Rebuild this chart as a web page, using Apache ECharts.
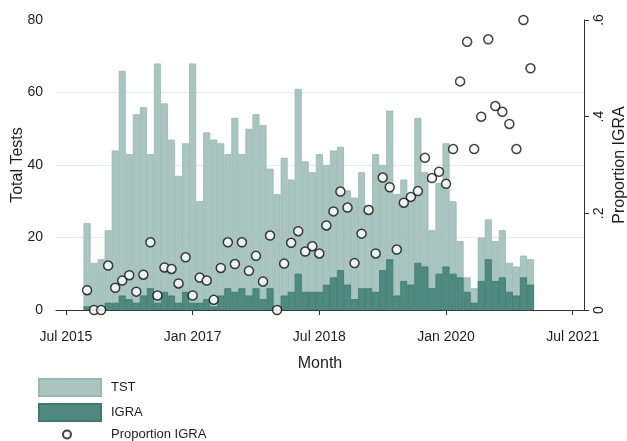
<!DOCTYPE html>
<html>
<head>
<meta charset="utf-8">
<script src="https://cdn.jsdelivr.net/npm/echarts@6/dist/echarts.min.js"></script>
<style>
  html, body { margin: 0; padding: 0; background: #fff; }
  #chart { width: 627px; height: 441px; }
</style>
</head>
<body>
<div id="chart"></div>
<script>
// Monthly test counts, Oct 2015 – Jan 2021
const months = [
  '2015-10','2015-11','2015-12',
  '2016-01','2016-02','2016-03','2016-04','2016-05','2016-06','2016-07','2016-08','2016-09','2016-10','2016-11','2016-12',
  '2017-01','2017-02','2017-03','2017-04','2017-05','2017-06','2017-07','2017-08','2017-09','2017-10','2017-11','2017-12',
  '2018-01','2018-02','2018-03','2018-04','2018-05','2018-06','2018-07','2018-08','2018-09','2018-10','2018-11','2018-12',
  '2019-01','2019-02','2019-03','2019-04','2019-05','2019-06','2019-07','2019-08','2019-09','2019-10','2019-11','2019-12',
  '2020-01','2020-02','2020-03','2020-04','2020-05','2020-06','2020-07','2020-08','2020-09','2020-10','2020-11','2020-12',
  '2021-01'
];

const igraTests = [
  1, 0, 0,
  2, 2, 4, 3, 2, 4, 6, 2, 5, 4, 2, 5,
  2, 2, 3, 1, 4, 6, 5, 6, 4, 6, 3, 6,
  0, 4, 5, 10, 5, 5, 5, 7, 9, 11, 7, 3,
  6, 6, 5, 11, 14, 4, 8, 7, 13, 12, 6, 10,
  12, 10, 9, 5, 2, 8, 14, 8, 9, 5, 4, 9,
  7
];

const tstTests = [
  23, 13, 14,
  20, 42, 62, 40, 52, 52, 37, 66, 52, 43, 35, 41,
  66, 28, 46, 46, 42, 37, 48, 37, 46, 48, 48, 33,
  32, 38, 31, 51, 36, 33, 38, 33, 35, 34, 26, 28,
  32, 23, 38, 29, 41, 28, 28, 25, 40, 26, 16, 25,
  34, 20, 10, 4, 4, 12, 11, 11, 13, 8, 8, 6,
  7
];

const proportionIgra = [
  0.041, 0, 0,
  0.092, 0.046, 0.061, 0.072, 0.038, 0.073, 0.14, 0.03, 0.088, 0.085, 0.055, 0.109,
  0.03, 0.067, 0.061, 0.021, 0.087, 0.14, 0.095, 0.14, 0.081, 0.112, 0.059, 0.154,
  0, 0.096, 0.139, 0.163, 0.121, 0.132, 0.117, 0.175, 0.204, 0.245, 0.212, 0.097,
  0.158, 0.207, 0.117, 0.274, 0.254, 0.125, 0.222, 0.234, 0.246, 0.315, 0.273, 0.286,
  0.261, 0.333, 0.473, 0.555, 0.333, 0.40, 0.56, 0.422, 0.41, 0.385, 0.333, 0.60,
  0.50
];

// x-axis ticks, as months
const xTickMonths = ['2015-07', '2017-01', '2018-07', '2020-01', '2021-07'];
const xTickLabels = ['Jul 2015', 'Jan 2017', 'Jul 2018', 'Jan 2020', 'Jul 2021'];
const leftTicks = [0, 20, 40, 60, 80];
const rightTicks = [0, 0.2, 0.4, 0.6];

// months counted from Jul 2015
function monthIndex(s) {
  const [y, m] = s.split('-').map(Number);
  return (y - 2015) * 12 + (m - 7);
}
const xs = months.map(monthIndex);
const xTickValues = xTickMonths.map(monthIndex);

const FONT = 'Liberation Sans';
const LIGHT = '#a8c5bf';
const DARK = '#4f8a80';
const TEXT = '#1e1e1e';

const W = 627;
const GRID = { left: 56, right: 43, top: 20, bottom: 131 };
const X_MIN = -1.41, X_MAX = 73.6;
// one month wide bars
const monthPx = (W - GRID.left - GRID.right) / (X_MAX - X_MIN);

const chart = echarts.init(document.getElementById('chart'), null, { renderer: 'canvas' });

chart.setOption({
  animation: false,
  textStyle: { fontFamily: FONT },
  grid: Object.assign({ containLabel: false, outerBoundsMode: 'none' }, GRID),
  xAxis: {
    type: 'value',
    min: X_MIN,
    max: X_MAX,
    offset: 12,
    name: 'Month',
    nameLocation: 'middle',
    nameGap: 34,
    nameMoveOverlap: false,
    nameTextStyle: { fontSize: 16, color: TEXT, fontFamily: FONT },
    axisLine: { show: true, lineStyle: { color: '#333', width: 1 } },
    axisTick: { show: true, length: 5, lineStyle: { color: '#333' }, customValues: xTickValues },
    axisLabel: {
      fontSize: 14, color: TEXT, margin: 8, fontFamily: FONT,
      customValues: xTickValues,
      formatter: v => xTickLabels[xTickValues.indexOf(Math.round(v))] || ''
    },
    splitLine: { show: false }
  },
  yAxis: [
    {
      type: 'value',
      min: leftTicks[0],
      max: leftTicks[leftTicks.length - 1],
      interval: 20,
      name: 'Total Tests',
      nameLocation: 'middle',
      nameGap: 30,
      nameMoveOverlap: false,
      nameTextStyle: { fontSize: 16, color: TEXT, fontFamily: FONT },
      axisLine: { show: false },
      axisTick: { show: false },
      axisLabel: { fontSize: 14, color: TEXT, margin: 13, fontFamily: FONT },
      splitLine: { show: true, showMaxLine: false, lineStyle: { color: '#e4eeeb', width: 1 } }
    },
    {
      type: 'value',
      position: 'right',
      min: rightTicks[0],
      max: rightTicks[rightTicks.length - 1],
      interval: 0.2,
      name: 'Proportion IGRA',
      nameLocation: 'middle',
      nameGap: 28,
      nameMoveOverlap: false,
      nameTextStyle: { fontSize: 16, color: TEXT, fontFamily: FONT },
      axisLine: { show: true, lineStyle: { color: '#333', width: 1 } },
      axisTick: { show: true, length: 5, lineStyle: { color: '#333' } },
      axisLabel: {
        fontSize: 14, color: TEXT, margin: 8, rotate: 90, fontFamily: FONT,
        formatter: v => (v === 0 ? '0' : String(Math.round(v * 10) / 10).replace(/^0/, ''))
      },
      splitLine: { show: false }
    }
  ],
  legend: [
    {
      orient: 'vertical',
      left: 38,
      top: 378,
      padding: 0,
      itemWidth: 62,
      itemHeight: 17,
      itemGap: 6,
      selectedMode: false,
      data: [
        { name: 'TST', icon: 'rect' },
        { name: 'IGRA', icon: 'rect' }
      ],
      textStyle: { fontSize: 13, color: TEXT, fontFamily: FONT, padding: [0, 0, 0, 5] }
    },
    {
      orient: 'vertical',
      left: 62,
      top: 428,
      padding: 0,
      itemWidth: 8,
      itemHeight: 8,
      selectedMode: false,
      data: ['Proportion IGRA'],
      textStyle: { fontSize: 13, color: TEXT, fontFamily: FONT, padding: [0, 0, 0, 35] }
    }
  ],
  series: [
    {
      // full bar = TST + IGRA, IGRA drawn over its lower part
      name: 'TST',
      type: 'bar',
      barWidth: monthPx,
      barGap: '-100%',
      yAxisIndex: 0,
      itemStyle: { color: LIGHT, borderColor: '#98b9b2', borderWidth: 0.8 },
      data: xs.map((x, i) => [x, tstTests[i] + igraTests[i]]),
      z: 2
    },
    {
      name: 'IGRA',
      type: 'bar',
      barWidth: monthPx,
      barGap: '-100%',
      yAxisIndex: 0,
      itemStyle: { color: DARK, borderColor: '#3e7a6f', borderWidth: 0.8 },
      data: xs.map((x, i) => [x, igraTests[i]]),
      z: 3
    },
    {
      name: 'Proportion IGRA',
      type: 'scatter',
      yAxisIndex: 1,
      symbol: 'circle',
      symbolSize: 9,
      clip: false,
      itemStyle: { color: '#fff', borderColor: '#111', borderWidth: 1.5 },
      data: xs.map((x, i) => [x, proportionIgra[i]]),
      z: 5
    }
  ]
});
</script>
</body>
</html>
